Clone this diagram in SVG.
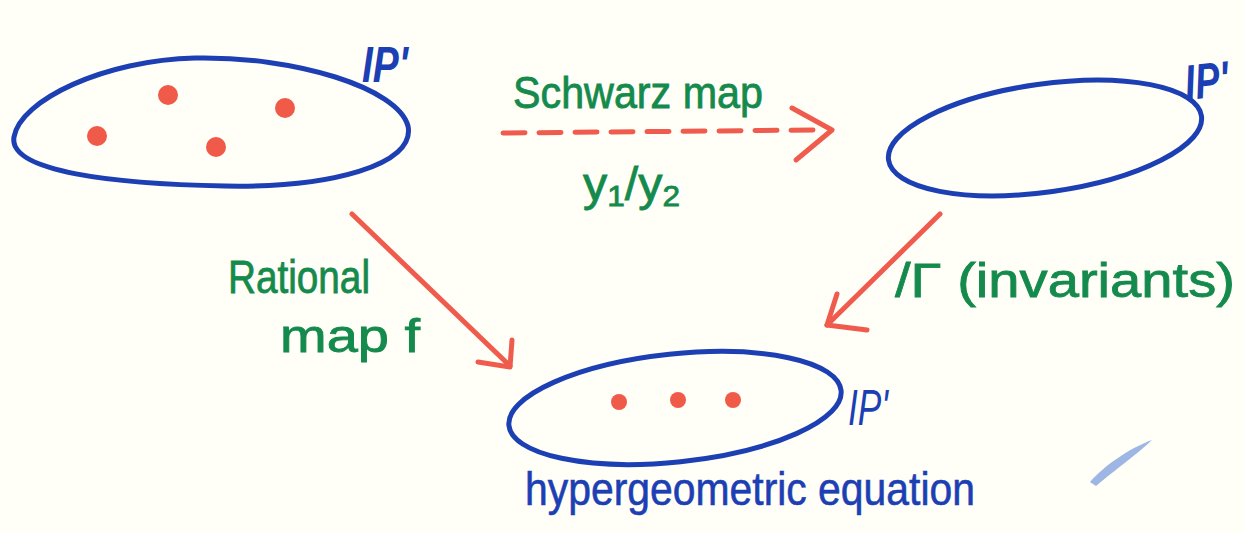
<svg xmlns="http://www.w3.org/2000/svg" width="1245" height="533" viewBox="0 0 1245 533">
  <defs>
    <style>
      .sphere { fill: none; stroke: #1c3fb3; stroke-width: 5; stroke-linecap: round; }
      .pt { fill: #f05a48; }
      .arrow { fill: none; stroke: #ef5b4d; stroke-width: 5; stroke-linecap: round; stroke-linejoin: round; }
      .green { fill: #148a4c; stroke: #148a4c; stroke-width: 0.8; font-family: "Liberation Sans", "DejaVu Sans", sans-serif; }
      .blue { fill: #1c3fb3; stroke: #1c3fb3; stroke-width: 0.6; font-family: "Liberation Sans", "DejaVu Sans", sans-serif; }
      .p1 { fill: #1c3fb3; font-family: "Liberation Sans", sans-serif; font-weight: bold; font-style: italic; font-size: 50px; }
    </style>
  </defs>
  <rect x="0" y="0" width="1245" height="533" fill="#fffef7"/>

  <g id="sphere-top-left">
    <path class="sphere" d="M14,137 C20,100 105,60 195,58 C295,56 398,88 408,126 C416,165 330,188 225,186 C115,184 8,172 14,137 Z"/>
    <circle class="pt" cx="168" cy="95" r="10"/>
    <circle class="pt" cx="285" cy="108" r="10"/>
    <circle class="pt" cx="97" cy="136" r="10"/>
    <circle class="pt" cx="216" cy="147" r="10"/>
    <text class="p1" x="362" y="82" textLength="46" lengthAdjust="spacingAndGlyphs">IP'</text>
  </g>

  <g id="sphere-top-right">
    <ellipse class="sphere" cx="1045" cy="138" rx="158" ry="54" transform="rotate(-8 1045 138)"/>
    <text class="p1" x="1184" y="98" textLength="44" lengthAdjust="spacingAndGlyphs" transform="rotate(-6 1206 75)">IP'</text>
  </g>

  <g id="sphere-bottom">
    <ellipse class="sphere" cx="675" cy="408" rx="167" ry="54" transform="rotate(-6 675 408)"/>
    <circle class="pt" cx="619" cy="402" r="8"/>
    <circle class="pt" cx="678" cy="400" r="8"/>
    <circle class="pt" cx="733" cy="400" r="8"/>
    <text class="p1" x="848" y="425" textLength="40" lengthAdjust="spacingAndGlyphs" style="font-weight:normal">IP'</text>
    <text class="blue" x="525" y="505" font-size="46" textLength="450" lengthAdjust="spacingAndGlyphs">hypergeometric equation</text>
  </g>

  <g id="connectors">
    <path class="arrow" d="M503,133 L815,130" stroke-dasharray="22 14"/>
    <path class="arrow" d="M792,108 L832,130 L796,160"/>
    <path class="arrow" d="M352,214 L510,366"/>
    <path class="arrow" d="M512,340 L510,367 L478,362"/>
    <path class="arrow" d="M940,214 L827,325"/>
    <path class="arrow" d="M837,294 L827,325 L867,330"/>
  </g>

  <g id="labels">
    <text class="green" x="513" y="108" font-size="44" textLength="250" lengthAdjust="spacingAndGlyphs">Schwarz map</text>
    <text class="green" x="583" y="200" font-size="46" textLength="97" lengthAdjust="spacingAndGlyphs">y<tspan font-size="30" dy="6">1</tspan><tspan dy="-6">/y</tspan><tspan font-size="30" dy="6">2</tspan></text>
    <text class="green" x="228" y="293" font-size="46" textLength="142" lengthAdjust="spacingAndGlyphs">Rational</text>
    <text class="green" x="280" y="352" font-size="46" textLength="140" lengthAdjust="spacingAndGlyphs">map f</text>
    <text class="green" x="895" y="297" font-size="48" textLength="340" lengthAdjust="spacingAndGlyphs">/Γ (invariants)</text>
  </g>

  <g id="smudge">
    <path d="M1090,482 C1105,465 1130,448 1152,440 C1140,452 1115,470 1096,486 Z" fill="#5d86d6" opacity="0.6"/>
  </g>
</svg>
